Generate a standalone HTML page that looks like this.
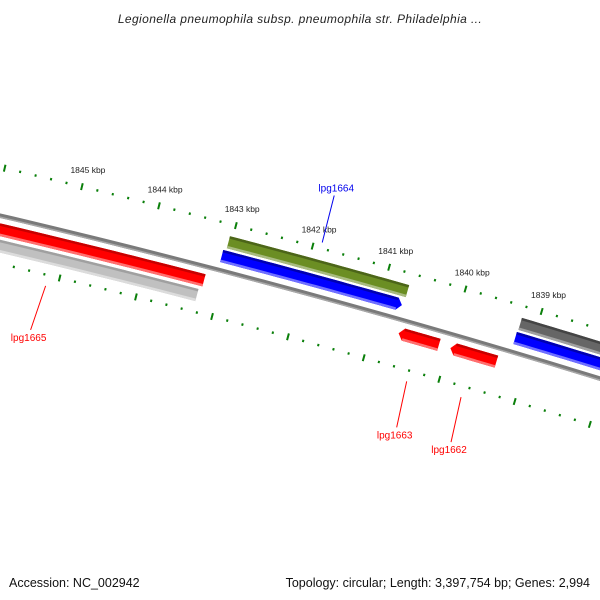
<!DOCTYPE html>
<html><head><meta charset="utf-8"><style>
html,body{margin:0;padding:0;background:#fff;}
svg{display:block;}
text{font-family:"Liberation Sans",sans-serif;}
</style></head><body>
<svg id="map" width="600" height="600" viewBox="0 0 600 600" xmlns="http://www.w3.org/2000/svg">
<rect width="600" height="600" fill="#fff"/>
<text x="300" y="23" text-anchor="middle" font-size="12" font-style="italic" letter-spacing="0.4" fill="#222">Legionella pneumophila subsp. pneumophila str. Philadelphia ...</text>
<text x="9" y="587" font-size="12.5" fill="#111">Accession: NC_002942</text>
<text x="590" y="587" text-anchor="end" font-size="12.5" fill="#111">Topology: circular; Length: 3,397,754 bp; Genes: 2,994</text>
<g id="layer"></g>
</svg>
<script>
// ---- data ----
var geneNames = ["lpg1665","gray-minus","lpg1664-olive","lpg1664","gray-plus","blue-plus","lpg1663","lpg1662"];
var geneStart = [1843215,1843255,1840696,1840715,1836000,1836000,1840127,1839367];
var geneEnd   = [1849000,1849000,1843038,1843076,1839215,1839225,1840658,1839975];
var geneRing  = [-1,-2,2,1,2,1,-1,-1];
var geneArrow = [0,0,0,-1,0,0,1,1]; // -1 arrow toward lower bp, 1 toward higher bp
var geneColor = ["red","lightgray","olive","blue","darkgray","blue","red","red"];
var labelText = ["lpg1664","lpg1665","lpg1663","lpg1662"];
var labelBp   = [1841895,1845150,1840392,1839671];
var labelColor= ["#0000ee","#ff0000","#ff0000","#ff0000"];
var tickStart = 1836000, tickEnd = 1849000, tickStep = 200;
var tickLabelKbp = [1845,1844,1843,1842,1841,1840,1839];

// ---- geometry ----
var R = 9115, Cx = -2088, Cy = 9088, a0 = Math.atan2(-0.965,0.262);
var pxPerBp = 0.079, refBp = 1842000;
function ang(bp){ return a0 + ((refBp - bp)*pxPerBp)/R; }
function pos(bp, off){ var a = ang(bp); return [Cx+(R+off)*Math.cos(a), Cy+(R+off)*Math.sin(a)]; }
var NS="http://www.w3.org/2000/svg", layer=document.getElementById('layer');
function mk(tag, attrs){ var e=document.createElementNS(NS,tag); for(var k in attrs) e.setAttribute(k,attrs[k]); layer.appendChild(e); return e; }
function arcPts(b1,b2,off){ var p=[],n=24; for(var i=0;i<=n;i++){ p.push(pos(b1+(b2-b1)*i/n, off)); } return p; }
function poly(pts){ return pts.map(function(p){return p[0].toFixed(2)+','+p[1].toFixed(2);}).join(' '); }
var palettes = {
  red:["#c80000","#ff0000","#ff7070"],
  blue:["#0000b0","#0000ff","#7070ff"],
  olive:["#4c6519","#6b8e23","#a8bb80"],
  lightgray:["#a0a0a0","#c0c0c0","#dcdcdc"],
  darkgray:["#444444","#666666","#a0a0a0"]
};
var ringOff = {"2":29,"1":14,"-1":-14,"-2":-30}, W=12.5;

// backbone
(function(){
  var top=arcPts(tickStart,tickEnd,2), bot=arcPts(tickEnd,tickStart,-2.5);
  var e=mk('polygon',{points:poly(top.concat(bot)),fill:'#7a7a7a'});
  
  
  var e2=mk('polygon',{points:poly(arcPts(tickStart,tickEnd,-1).concat(arcPts(tickEnd,tickStart,-2.5))),fill:'#a8a8a8'});
  
  
})();

// ticks
for(var b=tickStart;b<=tickEnd;b+=tickStep){
  var major=(b%1000===0);
  [47,-47].forEach(function(rc){
    var h=major?3.5:1.2;
    var p1=pos(b,rc-h), p2=pos(b,rc+h);
    var t=mk('line',{x1:p1[0],y1:p1[1],x2:p2[0],y2:p2[1],stroke:'#0a7f0a','stroke-width':2});
    
    
  });
}
tickLabelKbp.forEach(function(k){
  var p=pos(k*1000,64);
  var t=mk('text',{x:p[0]+2,y:p[1]+3,'text-anchor':'middle','font-size':'8.5',fill:'#222'});
  t.textContent=k+' kbp';
  
  
});

// genes
geneNames.forEach(function(nm,i){
  var off=ringOff[geneRing[i]], pal=palettes[geneColor[i]];
  var lo=Math.min(geneStart[i],geneEnd[i]), hi=Math.max(geneStart[i],geneEnd[i]);
  var head=5/pxPerBp, bodyLo=lo, bodyHi=hi;
  if(geneArrow[i]===-1) bodyLo=lo+head;
  if(geneArrow[i]===1) bodyHi=hi-head;
  var top=arcPts(bodyHi,bodyLo,off+W/2), bot=arcPts(bodyLo,bodyHi,off-W/2);
  var pts=top.slice();
  if(geneArrow[i]===-1){ pts.push(pos(lo,off)); }
  pts=pts.concat(bot);
  if(geneArrow[i]===1){ pts.push(pos(hi,off)); }
  var g=mk('polygon',{points:poly(pts),fill:pal[1]});
  
  
  var s1=mk('polygon',{points:poly(arcPts(bodyHi,bodyLo,off+W/2).concat(arcPts(bodyLo,bodyHi,off+W/2-2.5))),fill:pal[0]});
  
  
  var s2=mk('polygon',{points:poly(arcPts(bodyHi,bodyLo,off-W/2+2.5).concat(arcPts(bodyLo,bodyHi,off-W/2))),fill:pal[2]});
  
  
});

// labels
var labelOff=[53,-58,-58,-58], labelDx=[12,-15,-10,-10], labelDy=[-47,44,46,45];
labelText.forEach(function(t,i){
  var p=pos(labelBp[i],labelOff[i]);
  var q=[p[0]+labelDx[i],p[1]+labelDy[i]];
  var l=mk('line',{x1:p[0],y1:p[1],x2:q[0],y2:q[1],stroke:labelColor[i],'stroke-width':1});
  
  
  var ty = labelDy[i]<0 ? q[1]-4 : q[1]+11;
  var tx = q[0] + (labelDy[i]<0 ? 2 : -2);
  var e=mk('text',{x:tx,y:ty,'text-anchor':'middle','font-size':'10',fill:labelColor[i]});
  e.textContent=t;
  
  
});
</script>
</body></html>
